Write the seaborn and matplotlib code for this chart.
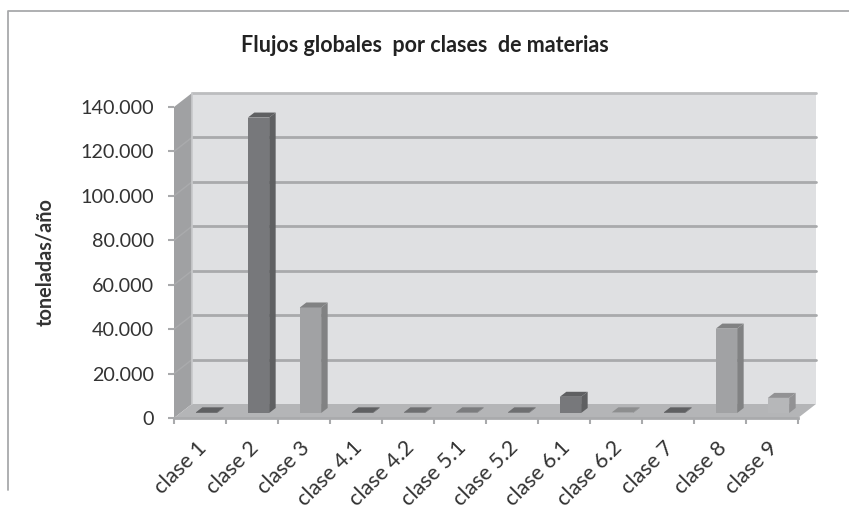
import matplotlib
matplotlib.use("Agg")
import matplotlib.pyplot as plt
import seaborn as sns
import pandas as pd
from matplotlib.patches import Polygon
from matplotlib.lines import Line2D
from matplotlib.transforms import Affine2D

categories = ["clase 1", "clase 2", "clase 3", "clase 4.1", "clase 4.2", "clase 5.1",
              "clase 5.2", "clase 6.1", "clase 6.2", "clase 7", "clase 8", "clase 9"]
values = [300, 133000, 47500, 300, 300, 300, 300, 7300, 300, 300, 38000, 6800]
bar_colors = ["#77787b", "#77787b", "#a1a2a4", "#77787b", "#8a8b8d", "#9a9b9d",
              "#8a8b8d", "#77787b", "#b0b1b3", "#77787b", "#a1a2a4", "#b6b7b9"]
y_ticks = [0, 20000, 40000, 60000, 80000, 100000, 120000, 140000]
y_labels = ["0", "20.000", "40.000", "60.000", "80.000", "100.000", "120.000", "140.000"]

W, H = 849, 517
sns.set_theme(style="white")
plt.rcParams["font.family"] = ["Lato", "DejaVu Sans"]
fig = plt.figure(figsize=(W / 100, H / 100), dpi=100, facecolor="white")
ax = fig.add_axes([174 / W, 1 - 418 / H, 624 / W, 311 / H], facecolor="none")

df = pd.DataFrame({"cat": categories, "val": values})
sns.barplot(data=df, x="cat", y="val", hue="cat", palette=bar_colors, legend=False,
            width=0.41, saturation=1, linewidth=0, ax=ax, zorder=5)
ax.set_xlim(-0.5, 11.5)
ax.set_ylim(0, 140000)

DX, DY = 18, 14      # depth of the box in pixels
BX, BY = 6.5, 5      # front plane of the bars
back = ax.transData + Affine2D().translate(DX, DY)
front = ax.transData
x0, x1 = ax.get_xlim()
y0, y1 = ax.get_ylim()


def skew(pts_front, pts_back, color, z, **kw):
    # polygon: first points on the front plane, the others on the back plane
    disp = list(front.transform(pts_front)) + list(back.transform(pts_back))
    p = Polygon(disp, closed=True, transform=None, facecolor=color, edgecolor="none",
                zorder=z, clip_on=False, **kw)
    fig.add_artist(p)
    return p


bg = Polygon(back.transform([(x0, y0), (x1, y0), (x1, y1), (x0, y1)]), closed=True,
             transform=None, facecolor="#dfe0e2", edgecolor="none", zorder=-5)
fig.add_artist(bg)
skew([(x0, y1), (x0, y0)], [(x0, y0), (x0, y1)], "#a0a1a3", -4)
skew([(x0, y0), (x1, y0)], [(x1, y0), (x0, y0)], "#b4b5b7", -4)
fig.add_artist(Line2D(*zip(*back.transform([(x0, y1), (x1, y1)])), transform=None,
                      color="#bcbdbf", lw=2, zorder=-3))
for t in y_ticks[1:-1]:
    p = back.transform([(x0, t), (x1, t)])
    fig.add_artist(Line2D(p[:, 0], p[:, 1], transform=None, color="#a9aaac", lw=2.0, zorder=-3))
    q = front.transform([(x0, t)])[0]
    fig.add_artist(Line2D([q[0], p[0, 0]], [q[1], p[0, 1]], transform=None,
                          color="#aaabad", lw=1, zorder=-3))
fig.add_artist(Line2D(*zip(*back.transform([(x0, y0), (x0, y1)])), transform=None,
                      color="#c8c9cb", lw=1.2, zorder=-3))

# 3D faces of the bars, derived from the patches drawn by seaborn
bar_shift = ax.transData + Affine2D().translate(BX, BY)
for patch, col in zip(list(ax.patches), bar_colors):
    patch.set_transform(bar_shift)
    patch.set_clip_on(False)
    l, b, w, h = patch.get_x(), patch.get_y(), patch.get_width(), patch.get_height()
    (xl, yb), (xr, yt) = bar_shift.transform([(l, b), (l + w, b + h)])
    rgb = matplotlib.colors.to_rgb(col)
    dark = tuple(c * 0.8 for c in rgb)
    d = (6.5, 5)
    ax.add_patch(Polygon([(xr, yb), (xr + d[0], yb + d[1]), (xr + d[0], yt + d[1]), (xr, yt)],
                         closed=True, transform=None, facecolor=dark, edgecolor="none",
                         zorder=6, clip_on=False))
    ax.add_patch(Polygon([(xl, yt), (xr, yt), (xr + d[0], yt + d[1]), (xl + d[0], yt + d[1])],
                         closed=True, transform=None, facecolor=dark, edgecolor="none",
                         zorder=6, clip_on=False))

ax.set_yticks(y_ticks, y_labels)
ax.set_xticks(range(len(categories)), categories, rotation=45, ha="right", rotation_mode="anchor")
ax.set_xticks([i - 0.5 for i in range(len(categories) + 1)], minor=True)
ax.tick_params(axis="x", which="major", length=0, pad=14, labelsize=15.5, labelcolor="#333333")
ax.tick_params(axis="x", which="minor", length=4.5, width=1.5, color="#a9aaac", bottom=True)
ax.tick_params(axis="y", length=4.5, width=1.5, color="#a9aaac", left=True, pad=10,
               labelsize=14.2, labelcolor="#333333")
shift = Affine2D().translate(-4, 0)
for lab in ax.get_xticklabels():
    lab.set_transform(lab.get_transform() + shift)
sns.despine(ax=ax, top=True, right=True, left=True, bottom=False)
ax.spines["bottom"].set_color("#a9aaac")
ax.spines["bottom"].set_linewidth(2)
ax.set_xlabel("")
ax.set_ylabel("")

fig.text(425 / W, 1 - 46 / H, "Flujos globales  por clases  de materias", ha="center", va="center",
         fontsize=15.5, fontweight="bold", color="#222222")
fig.text(45 / W, 1 - 262 / H, "toneladas/año", rotation=90, ha="center", va="center",
         fontsize=14.3, fontweight="bold", color="#333333")

# outer chart frame
fig.add_artist(Line2D([8 / W, 8 / W, 1], [1 - 490 / H, 1 - 11 / H, 1 - 11 / H],
                      transform=fig.transFigure, color="#a8a9ab", lw=1.3))

fig.savefig("out.png", dpi=100)
